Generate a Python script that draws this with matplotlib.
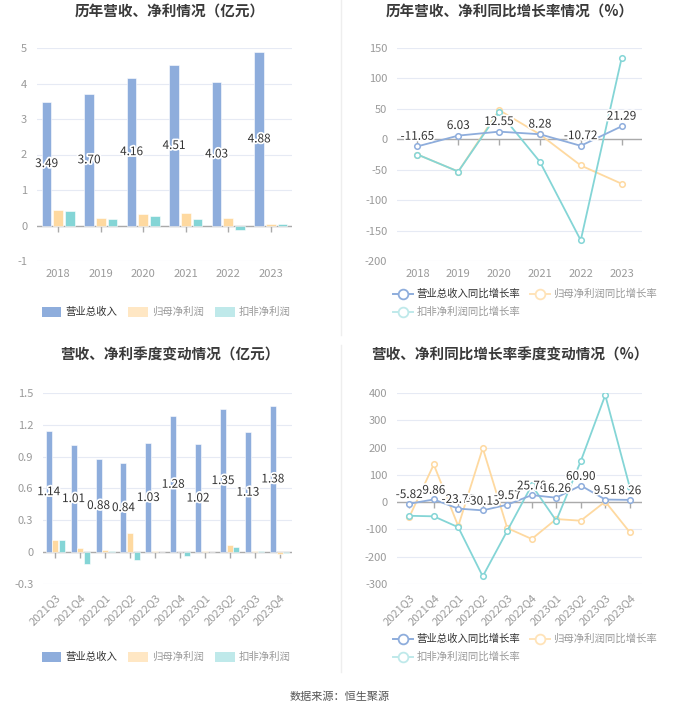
import numpy as np
import matplotlib
matplotlib.use('Agg')
import matplotlib.pyplot as plt
import matplotlib.patheffects as pe
from matplotlib.lines import Line2D
from matplotlib.patches import Patch

plt.rcParams['font.family'] = ['Noto Sans CJK SC', 'DejaVu Sans']

# 年度数据
years = ['2018', '2019', '2020', '2021', '2022', '2023']
rev_year = [3.49, 3.70, 4.16, 4.51, 4.03, 4.88]
np_year = [0.44, 0.21, 0.32, 0.34, 0.20, 0.05]
dnp_year = [0.40, 0.19, 0.28, 0.18, -0.12, 0.04]

rev_yoy_year = [-11.65, 6.03, 12.55, 8.28, -10.72, 21.29]
np_yoy_year = [-25, -53, 48, 8, -43, -73]
dnp_yoy_year = [-25, -53, 45, -37, -166, 133]

# 季度数据
quarters = ['2021Q3', '2021Q4', '2022Q1', '2022Q2', '2022Q3',
            '2022Q4', '2023Q1', '2023Q2', '2023Q3', '2023Q4']
rev_q = [1.14, 1.01, 0.88, 0.84, 1.03, 1.28, 1.02, 1.35, 1.13, 1.38]
np_q = [0.11, 0.035, 0.025, 0.18, 0.012, 0.005, 0.012, 0.065, 0.012, -0.02]
dnp_q = [0.11, -0.11, 0.015, -0.07, 0.003, -0.04, 0.002, 0.045, 0.015, -0.012]

rev_yoy_q = [-5.82, 9.86, -23.76, -30.13, -9.57, 25.78, 16.26, 60.90, 9.51, 8.26]
np_yoy_q = [-55, 138, -88, 198, -95, -135, -62, -68, 2, -110]
dnp_yoy_q = [-50, -52, -92, -272, -105, 62, -68, 150, 392, 55]

C_REV = '#8eaddc'
C_NP = '#fed9a0'
C_DNP = '#84d5d6'
C_NP_L = '#ffe7c4'
C_DNP_L = '#bfe9ea'
GRID = '#e6eaf4'
TICK = '#9a9a9a'

W, H = 680, 712
fig = plt.figure(figsize=(W / 100, H / 100), dpi=100)


def px_axes(x0, y0, x1, y1):
    # 像素坐标 (左上为原点) 转换为 figure 坐标
    return fig.add_axes([x0 / W, 1 - y1 / H, (x1 - x0) / W, (y1 - y0) / H])


def style_axes(ax, ylim, yticks, ylabels, n):
    ax.set_ylim(*ylim)
    ax.set_yticks(yticks)
    ax.set_yticklabels(ylabels)
    for s in ax.spines.values():
        s.set_visible(False)
    ax.grid(axis='y', color=GRID, linewidth=0.8)
    ax.set_axisbelow(True)
    ax.axhline(0, color='#aaaaaa', linewidth=1, zorder=1)
    ax.tick_params(axis='y', length=0, labelsize=8, labelcolor=TICK, pad=7)
    ax.tick_params(axis='x', length=0, labelsize=8, labelcolor=TICK, pad=6)
    # 零轴上的向下刻度
    ax.plot(np.arange(n), np.zeros(n), linestyle='none', marker=3, markersize=4,
            color='#aaaaaa', markeredgewidth=1, zorder=1)


def bar_panel(ax, labels, rev, np_, dnp, off, width, ylim, yticks, ylabels):
    x = np.arange(len(labels))
    ax.bar(x - off, rev, width, color=C_REV, edgecolor='white', linewidth=0.4, zorder=2)
    ax.bar(x, np_, width, color=C_NP, edgecolor='white', linewidth=0.4, zorder=2)
    ax.bar(x + off, dnp, width, color=C_DNP, edgecolor='white', linewidth=0.4, zorder=2)
    style_axes(ax, ylim, yticks, ylabels, len(labels))
    ax.set_xlim(-0.5, len(labels) - 0.5)
    ax.set_xticks(x)
    for xi, v in zip(x, rev):
        ax.text(xi - off, v / 2, f'{v:.2f}', ha='center', va='center', fontsize=8.5,
                color='#333333', zorder=4,
                path_effects=[pe.withStroke(linewidth=2.5, foreground='white')])


def line_panel(ax, labels, rev, np_, dnp, ylim, yticks, ylabels, dy):
    x = np.arange(len(labels))
    kw = dict(marker='o', markersize=4, markerfacecolor='white', markeredgewidth=1.1,
              linewidth=1.3)
    ax.plot(x, np_, color=C_NP, zorder=3, **kw)
    ax.plot(x, dnp, color=C_DNP, zorder=3, **kw)
    ax.plot(x, rev, color=C_REV, zorder=4, **kw)
    style_axes(ax, ylim, yticks, ylabels, len(labels))
    ax.set_xlim(-0.5, len(labels) - 0.5)
    ax.set_xticks(x)
    for xi, v in zip(x, rev):
        ax.text(xi, v + dy, f'{v:.2f}', ha='center', va='bottom', fontsize=8.5,
                color='#333333', zorder=5,
                path_effects=[pe.withStroke(linewidth=2.5, foreground='white')])


# 面板1
ax1 = px_axes(37, 48, 292, 261)
bar_panel(ax1, years, rev_year, np_year, dnp_year, 0.275, 0.23,
          (-1, 5), range(-1, 6), [str(v) for v in range(-1, 6)])
ax1.set_xticklabels(years)

# 面板2
ax2 = px_axes(397, 48, 642, 261)
line_panel(ax2, years, rev_yoy_year, np_yoy_year, dnp_yoy_year,
           (-200, 150), range(-200, 151, 50), [str(v) for v in range(-200, 151, 50)], 6)
ax2.set_xticklabels(years)

# 面板3
ax3 = px_axes(43, 393, 292, 584)
yt3 = [-0.3, 0, 0.3, 0.6, 0.9, 1.2, 1.5]
bar_panel(ax3, quarters, rev_q, np_q, dnp_q, 0.27, 0.24,
          (-0.3, 1.5), yt3, ['-0.3', '0', '0.3', '0.6', '0.9', '1.2', '1.5'])
ax3.set_xticklabels(quarters, rotation=45, ha='right', rotation_mode='anchor')

# 面板4
ax4 = px_axes(397, 393, 642, 584)
line_panel(ax4, quarters, rev_yoy_q, np_yoy_q, dnp_yoy_q,
           (-300, 400), range(-300, 401, 100), [str(v) for v in range(-300, 401, 100)], 10)
ax4.set_xticklabels(quarters, rotation=45, ha='right', rotation_mode='anchor')

# 标题
title_kw = dict(ha='center', va='center', fontsize=10.5, fontweight='bold', color='#3a3a3a')
fig.text(170 / W, 1 - 12 / H, '历年营收、净利情况（亿元）', **title_kw)
fig.text(510 / W, 1 - 12 / H, '历年营收、净利同比增长率情况（%）', **title_kw)
fig.text(170 / W, 1 - 355 / H, '营收、净利季度变动情况（亿元）', **title_kw)
fig.text(510 / W, 1 - 355 / H, '营收、净利同比增长率季度变动情况（%）', **title_kw)

# 图例
bar_handles = [Patch(facecolor=C_REV), Patch(facecolor=C_NP_L), Patch(facecolor=C_DNP_L)]
bar_names = ['营业总收入', '归母净利润', '扣非净利润']


def bar_legend(ycen):
    lg = fig.legend(bar_handles, bar_names, loc='center', bbox_to_anchor=(166 / W, 1 - ycen / H),
                    ncol=3, frameon=False, fontsize=7.5, handlelength=1.9, handleheight=1.1,
                    handletextpad=0.35, columnspacing=1.1)
    for t, c in zip(lg.get_texts(), ['#333333', '#999999', '#999999']):
        t.set_color(c)


bar_legend(312)
bar_legend(657)


def line_handle(c):
    return Line2D([0], [0], color=c, marker='o', markersize=7, markerfacecolor='white',
                  markeredgewidth=1.3, linewidth=1.4)


def line_legend(y1, y2):
    lg = fig.legend([line_handle(C_REV), line_handle('#ffe3b8')],
                    ['营业总收入同比增长率', '归母净利润同比增长率'],
                    loc='center left', bbox_to_anchor=(384 / W, 1 - y1 / H), ncol=2,
                    frameon=False, fontsize=7.5, handlelength=1.9, handletextpad=0.35,
                    columnspacing=0.9)
    for t, c in zip(lg.get_texts(), ['#333333', '#999999']):
        t.set_color(c)
    lg2 = fig.legend([line_handle('#bfe9ea')], ['扣非净利润同比增长率'],
                     loc='center left', bbox_to_anchor=(384 / W, 1 - y2 / H),
                     frameon=False, fontsize=7.5, handlelength=1.9, handletextpad=0.35)
    lg2.get_texts()[0].set_color('#999999')


line_legend(294, 312)
line_legend(639, 657)

# 分隔线
fig.add_artist(Line2D([341 / W, 341 / W], [1 - 0 / H, 1 - 335 / H], color='#eeeeee', linewidth=1))
fig.add_artist(Line2D([341 / W, 341 / W], [1 - 345 / H, 1 - 672 / H], color='#eeeeee', linewidth=1))

fig.text(340 / W, 1 - 697 / H, '数据来源：恒生聚源', ha='center', va='center',
         fontsize=8, color='#555555')

fig.savefig('out.png', dpi=100, facecolor='white')
